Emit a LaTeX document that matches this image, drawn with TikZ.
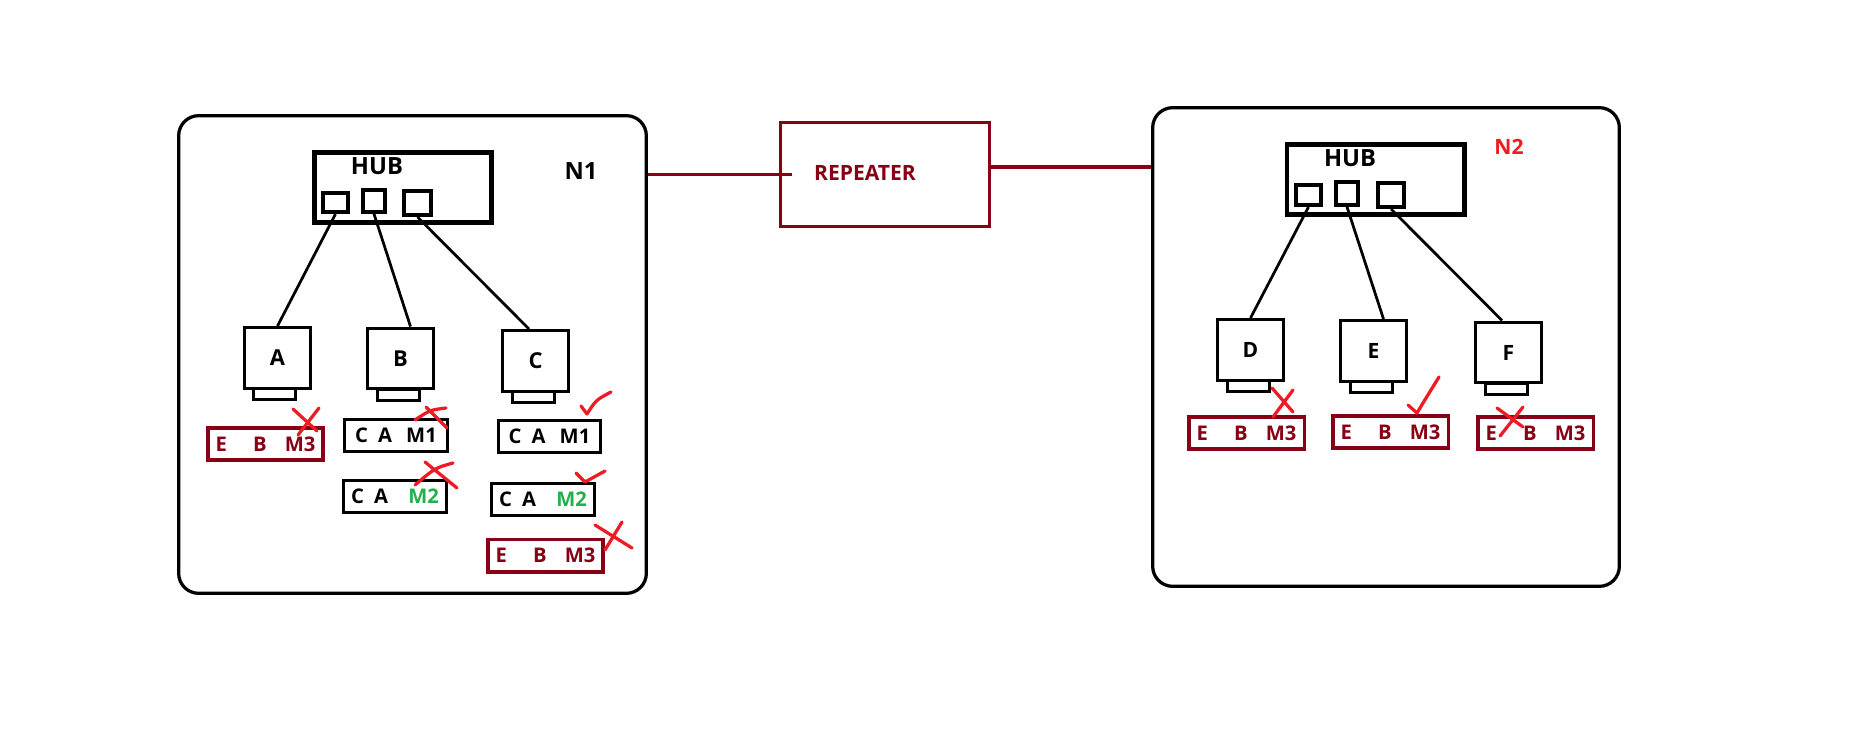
\documentclass[tikz,border=0pt]{standalone}
\usepackage{fontspec}
\setmainfont{Open Sans}
\definecolor{darkred}{RGB}{136,0,21}
\definecolor{paintred}{RGB}{237,28,36}
\definecolor{paintgreen}{RGB}{34,177,76}
\newcommand{\ebm}{E\hspace{1.3em}B\hspace{0.9em}M3}
\newcommand{\cam}[1]{C\hspace{0.5em}A\hspace{0.7em}#1}
\begin{document}
\begin{tikzpicture}[x=0.02cm, y=-0.02cm,
    netbox/.style={draw, line width=0.065cm, rounded corners=0.4cm, inner sep=0pt},
    hubbox/.style={draw, line width=0.09cm, inner sep=0pt, minimum width=3.55cm, minimum height=1.41cm},
    port/.style={draw, line width=0.08cm, inner sep=0pt},
    pc/.style={draw, line width=0.06cm, inner sep=0pt, minimum width=1.32cm, minimum height=1.22cm, font=\bfseries\fontsize{12.5}{13}\selectfont},
    pcbase/.style={draw, line width=0.06cm, inner sep=0pt, minimum width=0.84cm, minimum height=0.22cm},
    tbl/.style={draw, line width=0.06cm, inner sep=0pt, minimum width=2.06cm, minimum height=0.64cm, font=\bfseries\fontsize{11.5}{12}\selectfont},
    rtbl/.style={tbl, draw=darkred, text=darkred, line width=0.07cm, minimum width=2.31cm, minimum height=0.65cm},
    txt/.style={inner sep=0pt, font=\bfseries\fontsize{13.5}{14}\selectfont},
    wire/.style={line width=0.055cm},
    link/.style={darkred, line width=0.065cm},
    mk/.style={paintred, line width=0.065cm, line cap=round, line join=round}]

    % Page and margins
    \path[use as bounding box, fill=white] (0,0) rectangle (1852,743);

    % Network N1
    \node[netbox, minimum width=9.355cm, minimum height=9.555cm] (n1) at (412.5,354.5) {};
    \node[txt] (n1l) at (581,171) {N1};

    % Hub of N1
    \node[hubbox] (hub1) at (403,187.5) {};
    \node[txt] (hub1l) at (377,166) {HUB};
    \node[port, minimum width=0.5cm, minimum height=0.38cm] (h1p1) at (335.5,202.5) {};
    \node[port, minimum width=0.44cm, minimum height=0.44cm] (h1p2) at (374,201) {};
    \node[port, minimum width=0.54cm, minimum height=0.48cm] (h1p3) at (417.5,203) {};

    % Computers A, B, C
    \node[pc] (A) at (277.5,358) {A};
    \node[pcbase] (Abase) at (274.5,394) {};
    \node[pc] (B) at (400.5,358.5) {B};
    \node[pcbase] (Bbase) at (398,394.5) {};
    \node[pc] (C) at (535.5,361) {C};
    \node[pcbase] (Cbase) at (533,397) {};

    % Wires of N1
    \draw[wire] (h1p1.south) -- (A.north);
    \draw[wire] (h1p2.south) -- ([xshift=0.2cm]B.north);
    \draw[wire] (h1p3.south) -- ([xshift=-0.13cm]C.north);

    % Tables of N1
    \node[rtbl] (tA) at (265.5,444) {\ebm};
    \node[tbl] (tB1) at (396,435.5) {\cam{M1}};
    \node[tbl] (tB2) at (395,496) {C\hspace{0.5em}A\hspace{1em}\textcolor{paintgreen}{M2}};
    \node[tbl] (tC1) at (549.5,436.5) {\cam{M1}};
    \node[tbl] (tC2) at (543,499) {C\hspace{0.5em}A\hspace{1em}\textcolor{paintgreen}{M2}};
    \node[rtbl] (tC3) at (545.5,555.5) {\ebm};

    % Marks of N1
    \draw[mk] (293,409) -- (317,431) (319,408) -- (298,435);
    \draw[mk] (415,420) .. controls (430,410) .. (446,408) (426,407) -- (447,428);
    \draw[mk] (415,485) .. controls (435,468) .. (453,463) (425,462) -- (457,488);
    \draw[mk] (581,406) -- (587,414) .. controls (596,400) .. (611,392);
    \draw[mk] (576,473) -- (585,482) -- (605,471);
    \draw[mk] (595,525) -- (632,548) (622,522) -- (605,550);

    % Network N2
    \node[netbox, minimum width=9.335cm, minimum height=9.575cm] (n2) at (1386,347) {};
    \node[txt, text=paintred, font=\bfseries\fontsize{12}{13}\selectfont] (n2l) at (1509,147) {N2};

    % Hub of N2
    \node[hubbox] (hub2) at (1375.5,179.5) {};
    \node[txt] (hub2l) at (1350,158) {HUB};
    \node[port, minimum width=0.5cm, minimum height=0.4cm] (h2p1) at (1308.5,195) {};
    \node[port, minimum width=0.44cm, minimum height=0.46cm] (h2p2) at (1347,193.5) {};
    \node[port, minimum width=0.52cm, minimum height=0.48cm] (h2p3) at (1391,195) {};

    % Computers D, E, F
    \node[pc, font=\bfseries\fontsize{12}{13}\selectfont] (D) at (1250.5,350) {D};
    \node[pcbase] (Dbase) at (1248,386) {};
    \node[pc, font=\bfseries\fontsize{12}{13}\selectfont] (E) at (1373.5,351) {E};
    \node[pcbase] (Ebase) at (1371,387) {};
    \node[pc, font=\bfseries\fontsize{12}{13}\selectfont] (F) at (1508.5,352.5) {F};
    \node[pcbase] (Fbase) at (1506,389) {};

    % Wires of N2
    \draw[wire] (h2p1.south) -- (D.north);
    \draw[wire] (h2p2.south) -- ([xshift=0.2cm]E.north);
    \draw[wire] (h2p3.south) -- ([xshift=-0.13cm]F.north);

    % Tables of N2
    \node[rtbl] (tD) at (1246.5,433) {\ebm};
    \node[rtbl] (tE) at (1390.5,432) {\ebm};
    \node[rtbl] (tF) at (1535.5,433) {\ebm};

    % Marks of N2
    \draw[mk] (1272,388) -- (1293,412) (1293,390) -- (1273,417);
    \draw[mk] (1408,405) -- (1417,413) .. controls (1426,398) .. (1439,377);
    \draw[mk] (1497,408) -- (1523,427) (1523,407) -- (1500,436);

    % Repeater between N1 and N2
    \node[draw=darkred, line width=0.06cm, inner sep=0pt, minimum width=4.19cm, minimum height=2.08cm] (rep) at (884.75,174.5) {};
    \node[txt, text=darkred, font=\bfseries\fontsize{12}{13}\selectfont] (repl) at (865,173) {REPEATER};
    \draw[link] (rep.west -| n1.east) -- ([xshift=0.26cm]rep.west);
    \coordinate (rr) at ([xshift=-0.05cm,yshift=0.15cm]rep.east);
    \draw[link] (rr) -- (rr -| n2.west);
\end{tikzpicture}
\end{document}
